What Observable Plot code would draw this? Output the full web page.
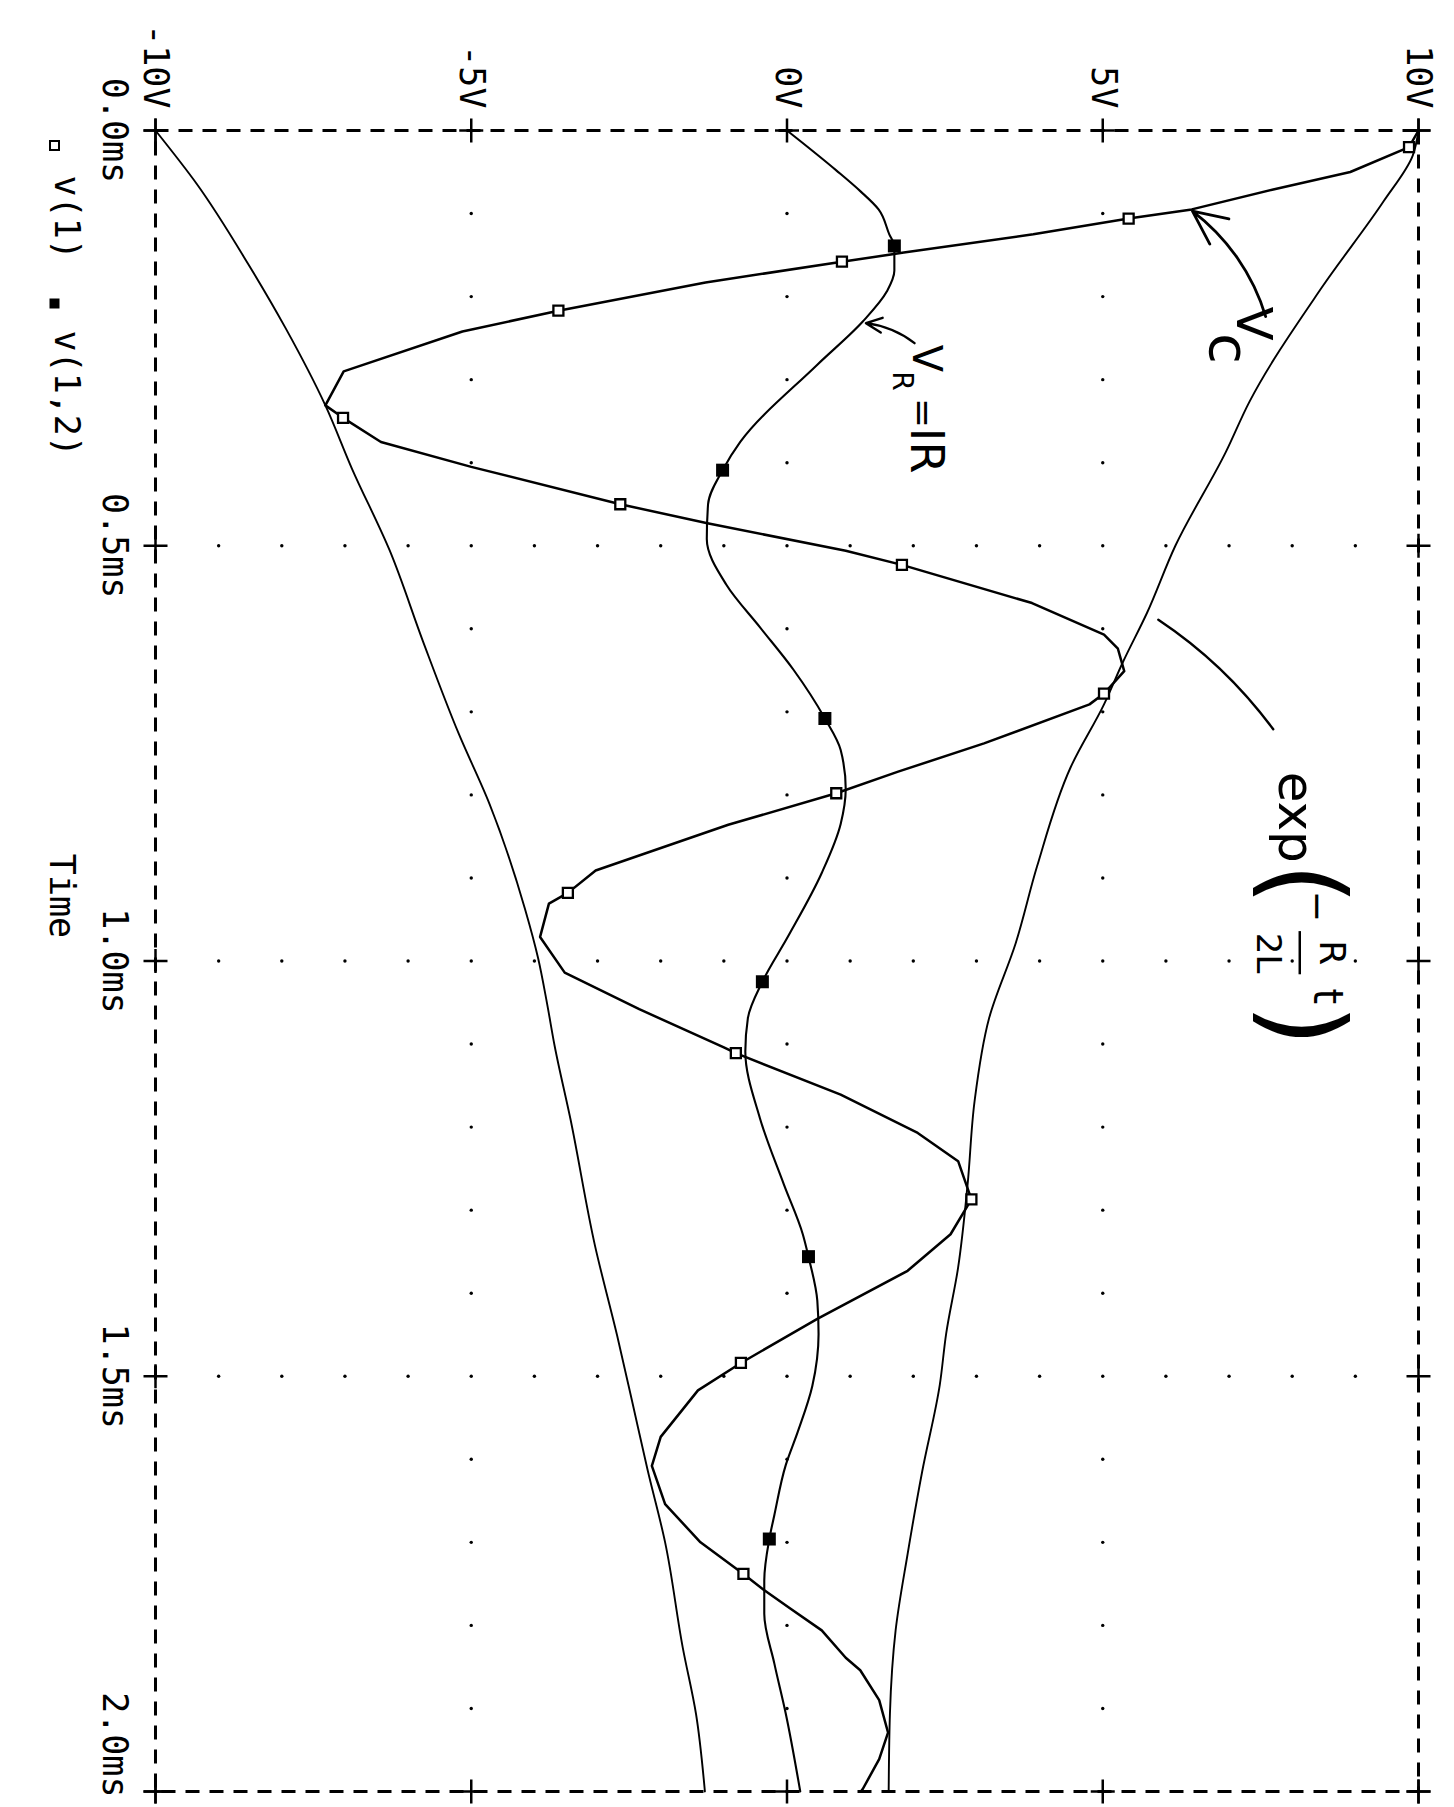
<!DOCTYPE html>
<html>
<head>
<meta charset="utf-8">
<script src="https://cdn.jsdelivr.net/npm/d3@7"></script>
<script src="https://cdn.jsdelivr.net/npm/@observablehq/plot@0.6"></script>
<style>
html, body { margin: 0; padding: 0; background: #fff; width: 1454px; height: 1807px; overflow: hidden; }
#chart { position: absolute; left: 0; top: 0; width: 1807px; height: 1454px;
  transform-origin: 0 0; transform: translate(1454px, 0) rotate(90deg); }
</style>
</head>
<body>
<div id="chart"></div>
<script>
// ---- axis ticks ----
const timeTicks = [0, 0.5, 1.0, 1.5, 2.0];          // ms
const voltTicks = [-10, -5, 0, 5, 10];              // V

// ---- series: [time (ms), voltage (V)] ----
// v(1) : capacitor voltage Vc (open squares)
const vcPoints = [
  [0.000,10.00],[0.020,9.85],[0.050,8.92],[0.071,7.70],[0.095,6.41],[0.106,5.41],[0.125,3.90],
  [0.147,1.85],[0.158,0.87],[0.183,-1.29],[0.217,-3.62],[0.242,-5.14],[0.290,-7.02],[0.331,-7.31],
  [0.346,-7.03],[0.375,-6.43],[0.405,-5.00],[0.450,-2.64],[0.473,-1.26],[0.506,0.93],[0.523,1.82],
  [0.569,3.88],[0.607,5.02],[0.624,5.24],[0.651,5.34],[0.678,5.02],[0.691,4.79],[0.738,3.12],
  [0.772,1.76],[0.798,0.78],[0.836,-0.93],[0.891,-3.03],[0.918,-3.47],[0.931,-3.77],[0.971,-3.91],
  [1.014,-3.52],[1.058,-2.34],[1.104,-1.00],[1.111,-0.81],[1.161,0.85],[1.207,2.07],[1.241,2.71],
  [1.265,2.82],[1.287,2.92],[1.329,2.59],[1.373,1.91],[1.431,0.48],[1.484,-0.73],[1.517,-1.41],
  [1.573,-2.00],[1.608,-2.14],[1.654,-1.93],[1.700,-1.37],[1.738,-0.69],[1.757,-0.37],[1.779,0.04],
  [1.806,0.55],[1.839,0.93],[1.854,1.16],[1.890,1.46],[1.929,1.60],[1.961,1.46],[1.997,1.20],[2.000,1.17]
];
const vcMarkers = [
  [0.020,9.85],[0.106,5.41],[0.158,0.87],[0.217,-3.62],[0.346,-7.03],[0.450,-2.64],[0.523,1.82],
  [0.678,5.02],[0.798,0.78],[0.918,-3.47],[1.111,-0.81],[1.287,2.92],[1.484,-0.73],[1.738,-0.69]
];
// v(1,2) : resistor voltage VR = IR (filled squares)
const vrPoints = [
  [0.000,0.00],[0.048,0.78],[0.073,1.16],[0.095,1.45],[0.125,1.62],[0.139,1.70],[0.169,1.70],
  [0.194,1.58],[0.230,1.20],[0.282,0.48],[0.375,-0.74],[0.409,-1.02],[0.450,-1.25],[0.492,-1.27],
  [0.547,-0.96],[0.598,-0.43],[0.649,0.10],[0.708,0.60],[0.746,0.85],[0.793,0.93],[0.835,0.85],
  [0.894,0.55],[0.970,0.02],[1.025,-0.39],[1.069,-0.62],[1.109,-0.66],[1.189,-0.43],[1.269,-0.05],
  [1.329,0.25],[1.356,0.34],[1.409,0.48],[1.449,0.50],[1.512,0.40],[1.567,0.17],[1.607,-0.02],
  [1.667,-0.20],[1.696,-0.28],[1.746,-0.36],[1.786,-0.36],[1.846,-0.20],[1.906,-0.02],[2.000,0.21]
];
const vrMarkers = [
  [0.139,1.70],[0.409,-1.02],[0.708,0.60],[1.025,-0.39],[1.356,0.34],[1.696,-0.28]
];
// decay envelope exp(-Rt/2L), upper and lower
const envUpper = [
  [0.000,10.00],[0.030,9.91],[0.085,9.45],[0.190,8.46],[0.327,7.32],[0.387,6.95],[0.500,6.15],
  [0.581,5.70],[0.640,5.32],[0.691,5.02],[0.767,4.49],[0.886,3.96],[0.979,3.62],[1.069,3.20],
  [1.169,2.97],[1.269,2.86],[1.369,2.71],[1.449,2.52],[1.510,2.42],[1.615,2.14],[1.714,1.91],
  [1.806,1.72],[1.906,1.63],[2.000,1.61]
];
const envLower = [
  [0.000,-10.00],[0.065,-9.34],[0.161,-8.53],[0.238,-7.94],[0.331,-7.31],[0.407,-6.89],[0.506,-6.29],
  [0.616,-5.76],[0.726,-5.20],[0.811,-4.71],[0.937,-4.15],[0.997,-3.94],[1.051,-3.80],[1.102,-3.68],
  [1.190,-3.43],[1.343,-3.04],[1.451,-2.69],[1.531,-2.45],[1.612,-2.21],[1.700,-1.93],[1.827,-1.65],
  [1.907,-1.44],[2.000,-1.30]
];

// ---- grid dots ----
const gridVolts = [-9,-8,-7,-6,-5,-4,-3,-2,-1,0,1,2,3,4,5,6,7,8,9];
const gridMajorTimes = [0.5, 1.0, 1.5];
const gridMinorTimes = [0.1,0.2,0.3,0.4,0.6,0.7,0.8,0.9,1.1,1.2,1.3,1.4,1.6,1.7,1.8,1.9];
const gridMajorVolts = [-5, 0, 5];

// ---- legend ----
const legendLabels = ["v(1)", "v(1,2)"];

// ---- handwritten annotations (time ms, voltage V) ----
const noteTexts = [
  {t: 0.212, v: 7.38, text: "V", size: 50},
  {t: 0.244, v: 6.98, text: "c", size: 56},
  {t: 0.258, v: 2.20, text: "V", size: 40},
  {t: 0.290, v: 1.82, text: "R", size: 28},
  {t: 0.322, v: 2.15, text: "=", size: 36},
  {t: 0.358, v: 2.20, text: "IR", size: 46},
  {t: 0.772, v: 8.05, text: "exp", size: 50},
  {t: 0.882, v: 8.15, text: "(", size: 108},
  {t: 0.915, v: 8.40, text: "−", size: 38},
  {t: 0.975, v: 8.62, text: "R", size: 36},
  {t: 0.966, v: 7.62, text: "2L", size: 34},
  {t: 1.033, v: 8.55, text: "t", size: 40},
  {t: 1.052, v: 8.15, text: ")", size: 108}
];
const vcArrow = [{t1: 0.224, v1: 7.58, t2: 0.097, v2: 6.42}];
const vrArrow = [{t1: 0.256, v1: 2.02, t2: 0.232, v2: 1.25}];
const expLine = [{t1: 0.589, v1: 5.88, t2: 0.721, v2: 7.70}];
const fractionBar = [{t1: 0.964, t2: 1.016, v: 8.12}];

// ---- build tables ----
const toRows = (arr) => arr.map(([t, v]) => ({t, v}));
const gridDots = [
  ...gridMajorTimes.flatMap(t => gridVolts.map(v => ({t, v}))),
  ...gridMinorTimes.flatMap(t => gridMajorVolts.map(v => ({t, v})))
];
const crosses = [
  ...timeTicks.flatMap(t => [{t, v: -10}, {t, v: 10}]),
  ...voltTicks.flatMap(v => [{t: 0, v}, {t: 2, v}])
];
const plusSymbol = { draw(ctx) { const h = 12; ctx.moveTo(-h, 0); ctx.lineTo(h, 0); ctx.moveTo(0, -h); ctx.lineTo(0, h); } };
const squareSymbol = (s) => ({ draw(ctx) { ctx.rect(-s/2, -s/2, s, s); } });

const mono = "'DejaVu Sans Mono', 'Liberation Mono', monospace";
const hand = "'DejaVu Sans', 'Noto Sans', sans-serif";
const timeFmt = d => `${d.toFixed(1)}ms`;

const chart = Plot.plot({
  width: 1807,
  height: 1454,
  marginLeft: 130,
  marginRight: 16,
  marginTop: 35,
  marginBottom: 156,
  x: {domain: [0, 2], axis: null},
  y: {domain: [-10, 10], axis: null},
  style: {fontFamily: mono, fontSize: "35px", color: "black", background: "white", overflow: "visible"},
  marks: [
    Plot.frame({stroke: "black", strokeWidth: 3, strokeDasharray: "14,10"}),
    Plot.dot(gridDots, {x: "t", y: "v", r: 1.7, fill: "black", stroke: null}),
    Plot.dot(crosses, {x: "t", y: "v", symbol: plusSymbol, fill: "none", stroke: "black", strokeWidth: 2.5}),
    Plot.text(voltTicks, {y: d => d, frameAnchor: "left", dx: -22, text: d => `${d}V`, textAnchor: "end", lineAnchor: "middle", fontSize: 35, fontFamily: mono, fill: "black"}),
    Plot.text(timeTicks.slice(0, 4), {x: d => d, frameAnchor: "bottom", dy: 41, text: timeFmt, textAnchor: "middle", lineAnchor: "middle", fontSize: 35, fontFamily: mono, fill: "black"}),
    Plot.text(timeTicks.slice(4), {x: d => d, frameAnchor: "bottom", dy: 41, dx: 6, text: timeFmt, textAnchor: "end", lineAnchor: "middle", fontSize: 35, fontFamily: mono, fill: "black"}),
    Plot.text(["Time"], {frameAnchor: "bottom", dx: -65, dy: 106, fontSize: 35, fontFamily: mono, fill: "black"}),
    // legend
    Plot.dot([0], {frameAnchor: "bottom-left", dx: 15, dy: 101, symbol: squareSymbol(9), fill: "white", stroke: "black", strokeWidth: 2}),
    Plot.text([legendLabels[0]], {frameAnchor: "bottom-left", dx: 45, dy: 101, textAnchor: "start", fontSize: 35, fontFamily: mono, fill: "black"}),
    Plot.dot([0], {frameAnchor: "bottom-left", dx: 173, dy: 101, symbol: squareSymbol(10), fill: "black", stroke: null}),
    Plot.text([legendLabels[1]], {frameAnchor: "bottom-left", dx: 200, dy: 101, textAnchor: "start", fontSize: 35, fontFamily: mono, fill: "black"}),
    // curves
    Plot.line(toRows(envUpper), {x: "t", y: "v", stroke: "black", strokeWidth: 1.9, curve: "monotone-x"}),
    Plot.line(toRows(envLower), {x: "t", y: "v", stroke: "black", strokeWidth: 1.9, curve: "monotone-x"}),
    Plot.line(toRows(vrPoints), {x: "t", y: "v", stroke: "black", strokeWidth: 2.1, curve: "monotone-x"}),
    Plot.line(toRows(vcPoints), {x: "t", y: "v", stroke: "black", strokeWidth: 2.5}),
    Plot.dot(toRows(vcMarkers), {x: "t", y: "v", symbol: squareSymbol(10), fill: "white", stroke: "black", strokeWidth: 2.3}),
    Plot.dot(toRows(vrMarkers), {x: "t", y: "v", symbol: squareSymbol(13), fill: "black", stroke: null}),
    // handwritten notes
    Plot.text(noteTexts, {x: "t", y: "v", text: "text", fontSize: "size", textAnchor: "start", lineAnchor: "middle", fontFamily: hand, fill: "black"}),
    Plot.arrow(vcArrow, {x1: "t1", y1: "v1", x2: "t2", y2: "v2", bend: -18, headLength: 20, headAngle: 50, stroke: "black", strokeWidth: 2.8}),
    Plot.arrow(vrArrow, {x1: "t1", y1: "v1", x2: "t2", y2: "v2", bend: -15, headLength: 14, headAngle: 50, stroke: "black", strokeWidth: 2.4}),
    Plot.arrow(expLine, {x1: "t1", y1: "v1", x2: "t2", y2: "v2", bend: 10, headLength: 0, stroke: "black", strokeWidth: 2.4}),
    Plot.link(fractionBar, {x1: "t1", x2: "t2", y1: "v", y2: "v", stroke: "black", strokeWidth: 2.5})
  ]
});
document.getElementById("chart").appendChild(chart);
</script>
</body>
</html>
